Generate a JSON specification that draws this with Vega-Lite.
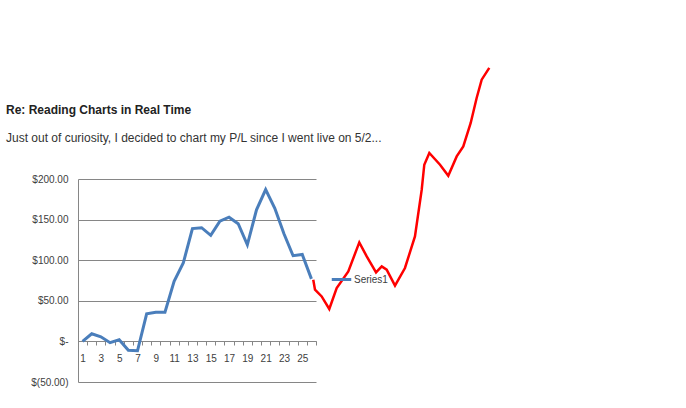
{
  "$schema": "https://vega.github.io/schema/vega-lite/v6.json",
  "autosize": {"type": "none"},
  "width": 238,
  "height": 203,
  "padding": {"left": 78, "top": 179, "right": 370, "bottom": 26},
  "background": "white",
  "config": {
    "view": {"stroke": null},
    "font": "Liberation Sans"
  },
  "title": {
    "text": "Re: Reading Charts in Real Time",
    "subtitle": "Just out of curiosity, I decided to chart my P/L since I went live on 5/2...",
    "anchor": "start",
    "frame": "group",
    "dx": -72,
    "offset": -82,
    "font": "Liberation Sans",
    "fontSize": 12,
    "fontWeight": "bold",
    "color": "#222222",
    "subtitleFont": "Liberation Sans",
    "subtitleFontSize": 12,
    "subtitleColor": "#333333",
    "subtitlePadding": 16
  },
  "datasets": {
    "pl": [
      {"day": 1, "value": 0}, {"day": 2, "value": 9.4}, {"day": 3, "value": 5.7},
      {"day": 4, "value": -1.6}, {"day": 5, "value": 2}, {"day": 6, "value": -11},
      {"day": 7, "value": -11.5}, {"day": 8, "value": 34}, {"day": 9, "value": 36},
      {"day": 10, "value": 36}, {"day": 11, "value": 74}, {"day": 12, "value": 96.5},
      {"day": 13, "value": 139}, {"day": 14, "value": 140}, {"day": 15, "value": 130.6},
      {"day": 16, "value": 148}, {"day": 17, "value": 153}, {"day": 18, "value": 145},
      {"day": 19, "value": 119}, {"day": 20, "value": 162}, {"day": 21, "value": 187},
      {"day": 22, "value": 164}, {"day": 23, "value": 132.6}, {"day": 24, "value": 105.5},
      {"day": 25, "value": 107}, {"day": 26, "value": 77}
    ],
    "drawn": [
      {"day": 26.2, "value": 76}, {"day": 26.39, "value": 63.7}, {"day": 27.12, "value": 55.4},
      {"day": 27.95, "value": 39.9}, {"day": 28.76, "value": 65.8}, {"day": 30.03, "value": 86.2},
      {"day": 31.23, "value": 121.9}, {"day": 32.04, "value": 104.7}, {"day": 33.06, "value": 85},
      {"day": 33.68, "value": 92.4}, {"day": 34.22, "value": 88.3}, {"day": 35.13, "value": 68.6},
      {"day": 36.22, "value": 90.4}, {"day": 37.31, "value": 129.3}, {"day": 38.05, "value": 186.8},
      {"day": 38.33, "value": 217.6}, {"day": 38.88, "value": 232}, {"day": 40.05, "value": 217.6},
      {"day": 40.95, "value": 204.1}, {"day": 41.87, "value": 227.8}, {"day": 42.59, "value": 240.2},
      {"day": 43.4, "value": 269}, {"day": 44.05, "value": 299.8}, {"day": 44.6, "value": 322.3},
      {"day": 45.43, "value": 336.8}
    ]
  },
  "layer": [
    {
      "data": {"name": "pl"},
      "mark": {"type": "line", "strokeWidth": 3, "strokeJoin": "miter", "clip": false},
      "encoding": {
        "x": {
          "field": "day", "type": "quantitative",
          "scale": {"domain": [0.5, 26.5], "nice": false, "zero": false},
          "axis": {
            "orient": "bottom", "offset": -41, "title": null,
            "values": [0.5, 1.5, 2.5, 3.5, 4.5, 5.5, 6.5, 7.5, 8.5, 9.5, 10.5, 11.5, 12.5, 13.5, 14.5, 15.5, 16.5, 17.5, 18.5, 19.5, 20.5, 21.5, 22.5, 23.5, 24.5, 25.5, 26.5],
            "labels": false, "grid": false,
            "domainColor": "#868686", "tickColor": "#868686", "tickSize": 4
          }
        },
        "y": {
          "field": "value", "type": "quantitative",
          "scale": {"domain": [-50, 200], "nice": false},
          "axis": {
            "title": null,
            "values": [-50, 0, 50, 100, 150, 200],
            "labelExpr": "datum.value == 0 ? '$-' : (datum.value < 0 ? '$(' + format(-datum.value, ',.2f') + ')' : '$' + format(datum.value, ',.2f'))",
            "ticks": false, "labelPadding": 10,
            "grid": true, "gridColor": "#868686", "gridWidth": 1,
            "domainColor": "#868686",
            "labelFont": "Liberation Sans", "labelFontSize": 10, "labelColor": "#404040"
          }
        },
        "color": {
          "datum": "Series1",
          "scale": {"range": ["#4A7EBB"]},
          "legend": {
            "title": null, "orient": "none", "legendX": 252, "legendY": 89,
            "symbolType": "stroke", "symbolStrokeWidth": 3, "symbolSize": 380,
            "labelFont": "Liberation Sans", "labelFontSize": 10, "labelColor": "#404040",
            "labelOffset": 1
          }
        }
      }
    },
    {
      "data": {"name": "drawn"},
      "mark": {"type": "line", "color": "#FF0000", "strokeWidth": 2.5, "clip": false},
      "encoding": {
        "x": {
          "field": "day", "type": "quantitative",
          "axis": {
            "orient": "bottom", "offset": -41, "title": null,
            "values": [1, 3, 5, 7, 9, 11, 13, 15, 17, 19, 21, 23, 25],
            "ticks": false, "domain": false, "grid": false,
            "labelPadding": 12,
            "labelFont": "Liberation Sans", "labelFontSize": 10, "labelColor": "#404040"
          }
        },
        "y": {"field": "value", "type": "quantitative", "axis": null}
      }
    }
  ],
  "resolve": {"axis": {"x": "independent", "y": "independent"}}
}
